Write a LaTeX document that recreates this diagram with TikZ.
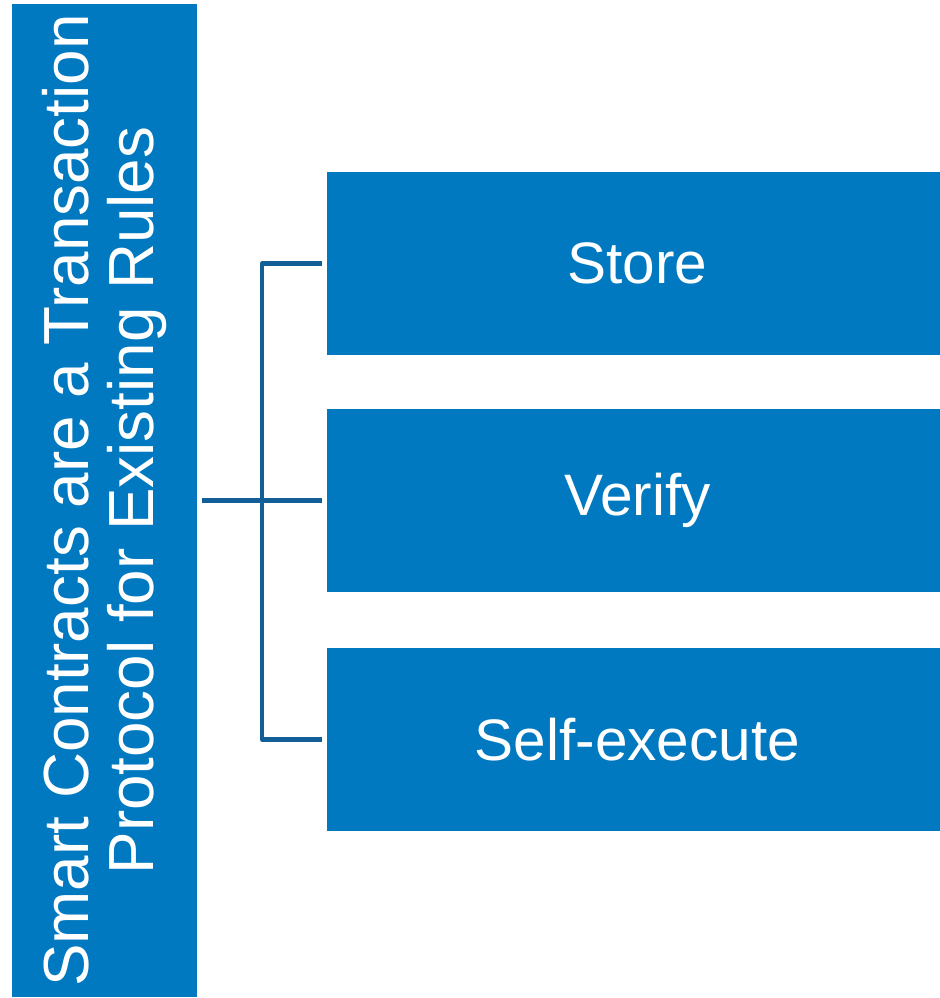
\documentclass[tikz,border=0pt]{standalone}
\usepackage{fontspec}
\setmainfont{Liberation Sans}
\usepackage{tikz}
\definecolor{boxblue}{RGB}{0,121,193}
\definecolor{linkblue}{RGB}{18,94,150}
\tikzset{
    every node/.style={fill=boxblue, text=white, inner sep=0pt, align=center}
}
\tikzset{
    stepbox/.style={minimum width=12.26cm, minimum height=3.66cm,
    	font=\fontsize{33.3}{35}\selectfont,
    	execute at begin node=\hspace*{0.16cm}},
    titlebox/.style={rotate=90, minimum width=19.88cm, minimum height=3.7cm,
    	font=\fontsize{36.3}{37}\selectfont},
    link/.style={draw=linkblue, line width=2.3pt, line join=round, shorten >=0.1cm}
}

\begin{document}
\begin{tikzpicture}[x=0.02cm, y=-0.02cm]
  \useasboundingbox (0, 0) rectangle (940, 998);
  \node (title) [titlebox] at (104.5, 500.5) {Smart Contracts are a Transaction\\Protocol for Existing Rules};
  \node (store) [stepbox] at (633.5, 263.5) {Store};
  \node (verify) [stepbox] at (633.5, 500.5) {Verify};
  \node (selfexec) [stepbox] at (633.5, 739.5) {Self-execute};
  \coordinate (fork) at (262, 500.5);

  \draw [link, shorten <=0.1cm] (title.south) -- (verify.west);
  \draw [link] (fork) |- (store.west);
  \draw [link] (fork) |- (selfexec.west);
\end{tikzpicture}
\end{document}
